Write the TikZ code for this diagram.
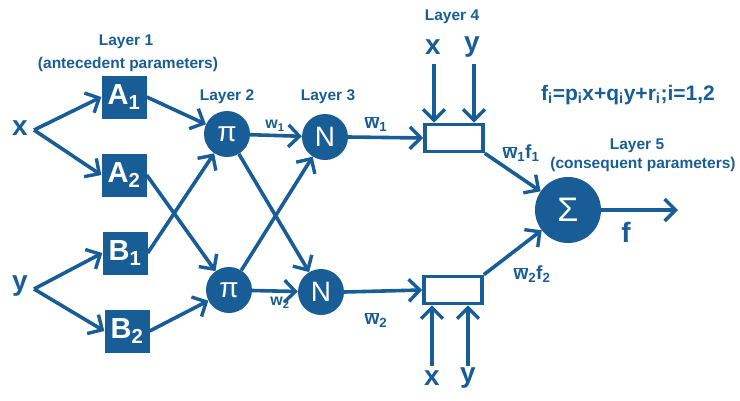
\documentclass[tikz,border=0pt]{standalone}
\usepackage{fontspec}
\setmainfont{Liberation Sans}
\usetikzlibrary{arrows.meta}
\definecolor{nblue}{RGB}{25,93,150}
\begin{document}
\begin{tikzpicture}[x=1pt,y=-1pt,
  every node/.style={text=nblue,font=\bfseries},
  conn/.style={draw=nblue,line width=3.6pt},
  arr/.style={conn,-{Straight Barb[length=11pt,width=22pt,line width=3.4pt]}},
  sqnode/.style={fill=nblue,minimum width=45pt,minimum height=43pt,inner sep=0pt,text=white,font=\bfseries\fontsize{29}{30}\selectfont},
  cnode/.style={circle,fill=nblue,minimum size=46pt,inner sep=0pt,text=white,font=\fontsize{28}{30}\selectfont},
  rnode/.style={draw=nblue,line width=3.6pt,fill=white,minimum width=58pt,minimum height=27pt,inner sep=0pt},
  lbl/.style={font=\bfseries\fontsize{15.5}{18}\selectfont},
  big/.style={font=\bfseries\fontsize{28}{30}\selectfont},
  sm/.style={font=\bfseries\fontsize{19}{20}\selectfont},
  wl/.style={font=\bfseries\fontsize{16}{18}\selectfont}
]
\useasboundingbox (0,0) rectangle (740,400);
% inputs
\node[big] (x) at (20,128) {x};
\node[big] (y) at (20,286) {y};
\coordinate (xs) at (34,130);
\coordinate (ys) at (34,289);
% layer 1
\node[sqnode] (A1) at (124,97) {A\textsubscript{1}};
\node[sqnode] (A2) at (124,175) {A\textsubscript{2}};
\node[sqnode] (B1) at (125,253) {B\textsubscript{1}};
\node[sqnode] (B2) at (127,331) {B\textsubscript{2}};
\node[lbl] (L1) at (126,42) {Layer 1};
\node[lbl] (L1b) at (128,64) {(antecedent parameters)};
% layer 2
\node[cnode] (P1) at (227,134) {π};
\node[cnode] (P2) at (229,290) {π};
\node[lbl] (L2) at (227,97) {Layer 2};
% layer 3
\node[cnode] (N1) at (325,137) {N};
\node[cnode] (N2) at (321,292) {N};
\node[lbl] (L3) at (328,97) {Layer 3};
% layer 4
\node[rnode] (R1) at (454,138) {};
\node[rnode] (R2) at (453,290) {};
\node[lbl] (L4) at (452,17) {Layer 4};
\node[big] (x1) at (433,47) {x};
\node[big] (y1) at (472,47) {y};
\node[big] (x2) at (432,378) {x};
\node[big] (y2) at (468,378) {y};
\coordinate (x1s) at (434,64);
\coordinate (y1s) at (474,64);
\coordinate (x2s) at (432,366);
\coordinate (y2s) at (468,366);
% layer 5
\node[circle,fill=nblue,minimum size=66pt,inner sep=0pt,text=white,font=\fontsize{34}{36}\selectfont] (S) at (568,210) {Σ};
\node[lbl] (L5) at (637,146) {Layer 5};
\node[lbl] (L5b) at (643,164) {(consequent parameters)};
\node[font=\bfseries\fontsize{21}{24}\selectfont] (F) at (628,95) {f\textsubscript{i}=p\textsubscript{i}x+q\textsubscript{i}y+r\textsubscript{i};i=1,2};
\coordinate (out) at (678,210);
\node[big] (f) at (626,232) {f};
% edge labels
\node[wl] (w1) at (275,126) {w\textsubscript{1}};
\node[wl] (w2) at (280,303) {w\textsubscript{2}};
\node[sm] (wb1) at (376,124) {$\overline{\mbox{w}}$\textsubscript{1}};
\node[sm] (wb2) at (376,320) {$\overline{\mbox{w}}$\textsubscript{2}};
\node[sm] (wf1) at (521,153) {$\overline{\mbox{w}}$\textsubscript{1}f\textsubscript{1}};
\node[sm] (wf2) at (532,274) {$\overline{\mbox{w}}$\textsubscript{2}f\textsubscript{2}};
% connectors
\draw[arr] (xs) -- (A1.west);
\draw[arr] (xs) -- (A2.west);
\draw[arr] (ys) -- (B1.west);
\draw[arr] (ys) -- (B2.west);
\draw[arr] (A1.east) -- (P1);
\draw[arr] (A2.east) -- (P2);
\draw[arr] (B1.east) -- (P1);
\draw[arr] (B2.east) -- (P2);
\draw[arr] (P1) -- (N1);
\draw[arr] (P1) -- (N2);
\draw[arr] (P2) -- (N1);
\draw[arr] (P2) -- (N2);
\draw[arr] (N1.east) -- (R1.west);
\draw[arr] (N2.east) -- (R2.west);
\draw[arr] (x1s) -- (x1s |- R1.north);
\draw[arr] (y1s) -- (y1s |- R1.north);
\draw[arr] (x2s) -- (x2s |- R2.south);
\draw[arr] (y2s) -- (y2s |- R2.south);
\draw[arr] (R1.south east) -- (S);
\draw[arr] (R2.north east) -- (S);
\draw[arr] (S.east) -- (out);
\end{tikzpicture}
\end{document}
